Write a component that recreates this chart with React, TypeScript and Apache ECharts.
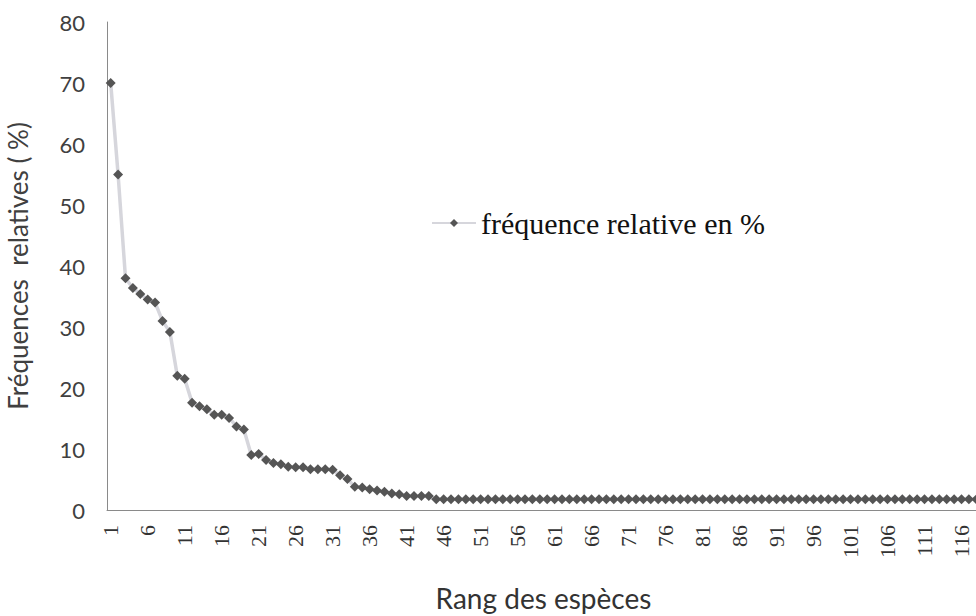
import React, { useEffect, useRef } from "react";
import * as echarts from "echarts";

const seriesName = "fréquence relative en %";
const ranks: string[] = Array.from({ length: 118 }, (_, i) => String(i + 1));
const headValues: number[] = [
  70, 55, 38, 36.4, 35.4, 34.5, 34, 31, 29.2, 22,
  21.5, 17.6, 17, 16.5, 15.6, 15.6, 15.1, 13.7, 13.2, 9,
  9.2, 8.2, 7.7, 7.5, 7.1, 7, 7, 6.7, 6.7, 6.7,
  6.6, 5.7, 5.1, 3.8, 3.7, 3.4, 3.2, 3.0, 2.7, 2.6,
  2.3, 2.3, 2.3, 2.3,
];
const tailValue = 1.75;
const tailCount = 118 - headValues.length;
const tailValues: number[] = new Array(tailCount).fill(tailValue);
const values: number[] = headValues.concat(tailValues);
const yTicks = { min: 0, max: 80, interval: 10 };

export default function App() {
  const ref = useRef<HTMLDivElement>(null);
  useEffect(() => {
    if (!ref.current) return;
    const chart = echarts.init(ref.current, null, { renderer: "svg" });
    chart.setOption({
      animation: false,
      backgroundColor: "#ffffff",
      grid: {
        left: 107,
        top: 22,
        width: 873,
        height: 488,
        containLabel: false,
        outerBoundsMode: "none",
      },
      legend: {
        data: [seriesName],
        left: 426,
        top: 203,
        itemWidth: 44,
        itemHeight: 10,
        itemGap: 6,
        textStyle: {
          fontFamily: "Liberation Serif",
          fontSize: 30,
          color: "#111111",
        },
      },
      xAxis: {
        type: "category",
        data: ranks,
        boundaryGap: true,
        axisLine: { show: true, lineStyle: { color: "#8a8a8a", width: 1 } },
        axisTick: { show: false },
        splitLine: { show: false },
        axisLabel: {
          interval: 4,
          rotate: 90,
          margin: 15,
          fontFamily: "Liberation Serif",
          fontSize: 22,
          color: "#333333",
        },
        name: "Rang des espèces",
        nameLocation: "middle",
        nameGap: 74,
        nameMoveOverlap: false,
        nameTextStyle: { fontFamily: "Lato", fontSize: 28, color: "#333333" },
      },
      yAxis: {
        type: "value",
        min: yTicks.min,
        max: yTicks.max,
        interval: yTicks.interval,
        axisLine: { show: true, lineStyle: { color: "#8a8a8a", width: 1 } },
        axisTick: { show: false },
        splitLine: { show: false },
        axisLabel: {
          margin: 22,
          fontFamily: "Lato",
          fontSize: 22,
          color: "#404040",
        },
        name: "Fréquences  relatives ( %)",
        nameLocation: "middle",
        nameRotate: 90,
        nameGap: 76,
        nameMoveOverlap: false,
        nameTextStyle: { fontFamily: "Lato", fontSize: 26, color: "#404040" },
      },
      series: [
        {
          name: seriesName,
          type: "line",
          data: values,
          symbol: "diamond",
          symbolSize: 10,
          showSymbol: true,
          showAllSymbol: true,
          itemStyle: { color: "#555555" },
          lineStyle: { color: "#d6d6dc", width: 3.5 },
        },
      ],
    });
    return () => chart.dispose();
  }, []);
  return (
    <div
      ref={ref}
      style={{ position: "fixed", left: 0, top: 0, width: 976, height: 616 }}
    />
  );
}
